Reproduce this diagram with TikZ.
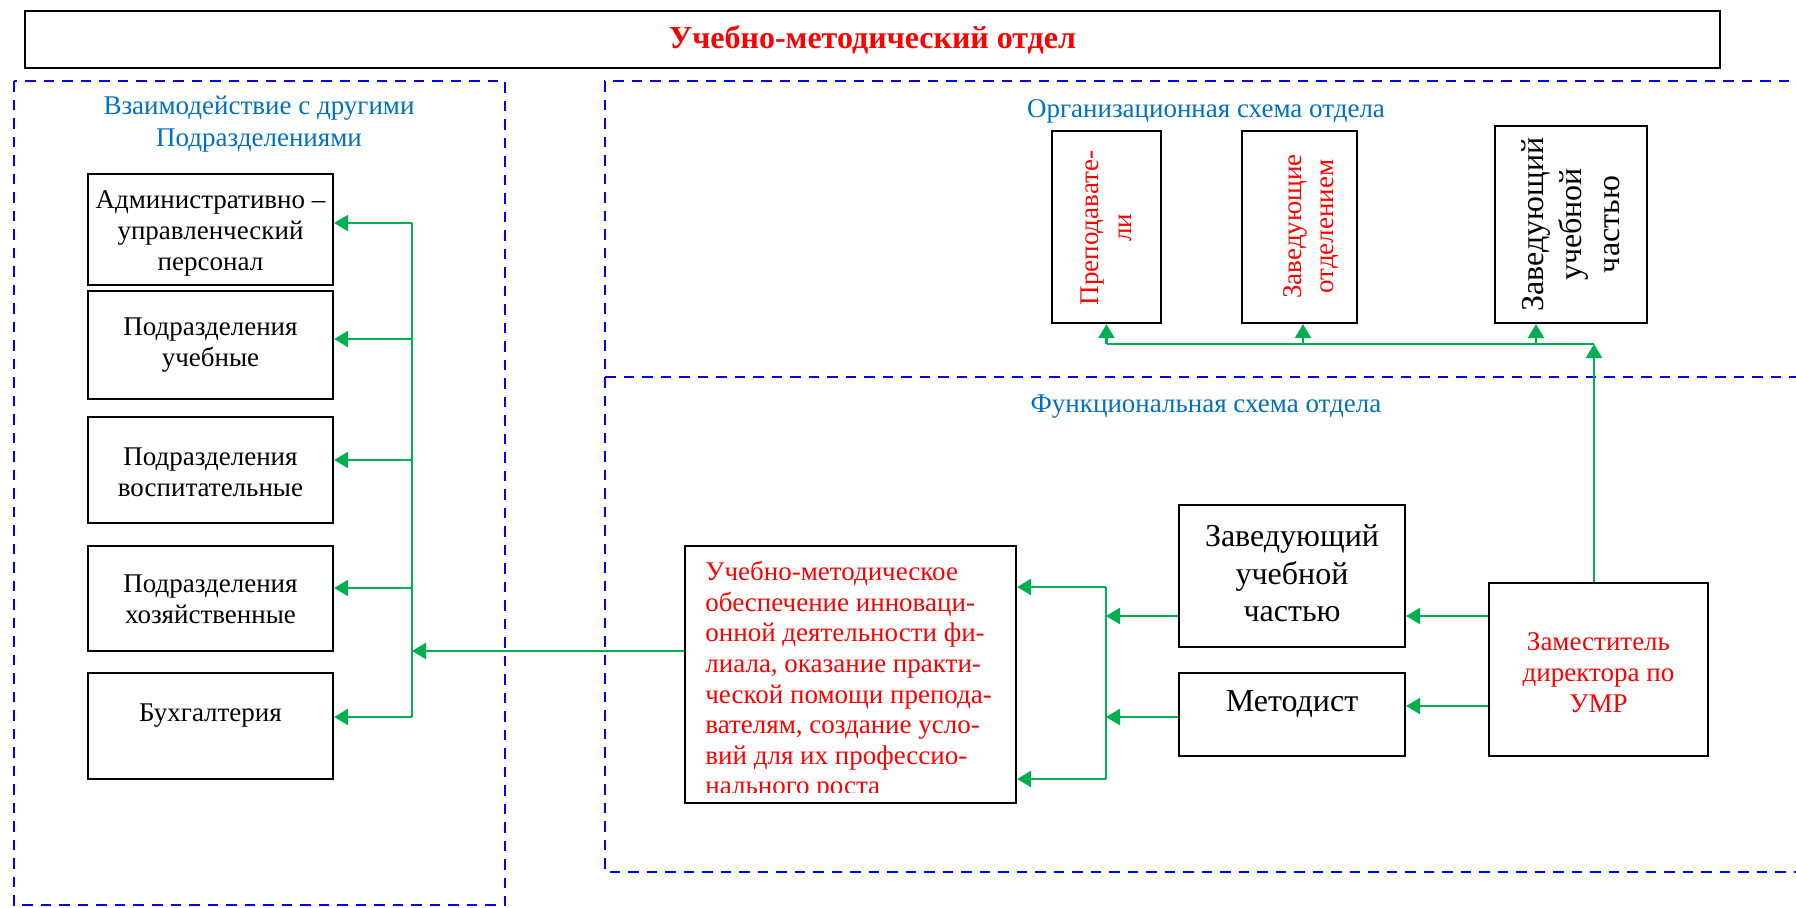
\documentclass[tikz,border=0pt]{standalone}
\usepackage{fontspec}
\setmainfont{Liberation Serif}
\usetikzlibrary{arrows.meta}
\definecolor{ggreen}{HTML}{00B050}
\definecolor{tblue}{HTML}{0070C0}
\definecolor{dblue}{HTML}{0000FF}
\definecolor{tred}{HTML}{FF0000}
\tikzset{
  box/.style={draw=black, line width=1.1pt, inner sep=0pt},
  txt/.style={font=\fontsize{13.5}{15.5}\selectfont, align=center, inner sep=0pt},
  bigtxt/.style={font=\fontsize{16}{18.75}\selectfont, align=center, inner sep=0pt},
  gline/.style={draw=ggreen, line width=1.2pt},
  arr/.style={gline, -{Triangle[length=7pt,width=8pt]}},
  dashbox/.style={draw=dblue, line width=1.4pt, dash pattern=on 5.25pt off 4pt},
}
\begin{document}
\begin{tikzpicture}[x=0.5pt,y=-0.5pt]
\useasboundingbox (0,0) rectangle (1796,907);
\clip (0,0) rectangle (1796,907);

% dashed regions
\draw[dashbox] (14,81) rectangle (505,905);
\draw[dashbox] (1900,81) -- (605,81) -- (605,872) -- (1900,872);
\draw[dashbox] (605,377) -- (1900,377);

% title
\node[box, line width=1.4pt, minimum width=847.5pt, minimum height=28.5pt, text=tred,
      font=\bfseries\fontsize{16}{19}\selectfont] (title) at (872.5,39.5) {Учебно-методический отдел};

% section titles
\node[txt, text=tblue, font=\fontsize{13.5}{16}\selectfont] (lt) at (259,124) {Взаимодействие с другими\\Подразделениями};
\node[txt, text=tblue] (ot) at (1206,111) {Организационная схема отдела};
\node[txt, text=tblue] (ft) at (1206,407) {Функциональная схема отдела};

% left boxes
\node[box, minimum width=122.5pt, minimum height=55.5pt] (a1) at (210.5,229.5) {};
\node[box, minimum width=122.5pt, minimum height=54pt] (a2) at (210.5,345) {};
\node[box, minimum width=122.5pt, minimum height=53pt] (a3) at (210.5,470) {};
\node[box, minimum width=122.5pt, minimum height=52.5pt] (a4) at (210.5,598.5) {};
\node[box, minimum width=122.5pt, minimum height=53pt] (a5) at (210.5,726) {};
\node[txt] (a1t) at (210.5,233.5) {Административно –\\управленческий\\персонал};
\node[txt] (a2t) at (210.5,345) {Подразделения\\учебные};
\node[txt] (a3t) at (210.5,472) {Подразделения\\воспитательные};
\node[txt] (a4t) at (210.5,599.5) {Подразделения\\хозяйственные};
\node[txt] (a5t) at (210.5,716) {Бухгалтерия};

% organisational boxes (vertical text)
\node[box, minimum width=54.5pt, minimum height=96pt] (p) at (1106.5,227) {};
\node[box, minimum width=57.5pt, minimum height=96pt] (z) at (1299.5,227) {};
\node[box, minimum width=76pt, minimum height=98.5pt] (zu) at (1571,224.5) {};
\node[txt, rotate=90, text=tred, font=\fontsize{13.5}{16.5}\selectfont] (pt) at (1106.5,228) {Преподавате-\\ли};
\node[txt, rotate=90, text=tred, font=\fontsize{13.5}{16}\selectfont] (zt) at (1311,226.5) {Заведующие\\отделением};
\node[bigtxt, rotate=90, font=\fontsize{16}{19}\selectfont] (zut) at (1571,224.5) {Заведующий\\учебной\\частью};

% functional boxes
\node[box, minimum width=165.5pt, minimum height=128.5pt] (r) at (850.5,674.5) {};
\node[box, minimum width=113pt, minimum height=71pt] (zv) at (1292,576) {};
\node[box, minimum width=113pt, minimum height=41.5pt] (m) at (1292,714.5) {};
\node[box, minimum width=109.5pt, minimum height=86.5pt] (d) at (1598.5,669.5) {};
\node[bigtxt] (zvt) at (1292,573.5) {Заведующий\\учебной\\частью};
\node[bigtxt] (mt) at (1292,704) {Методист};
\node[txt, text=tred] (dt) at (1598.5,673) {Заместитель\\директора по\\УМР};
\begin{scope}
\clip (685,546) rectangle (1016,792);
\node[txt, align=left, anchor=north west, text=tred, font=\fontsize{13.5}{15.3}\selectfont] (rt) at (705,561)
 {Учебно-методическое\\обеспечение инноваци-\\онной деятельности фи-\\лиала, оказание практи-\\ческой помощи препода-\\вателям, создание усло-\\вий для их профессио-\\нального роста};
\end{scope}

% left bus
\coordinate (b1) at (412,223);
\coordinate (b2) at (412,339);
\coordinate (b3) at (412,460);
\coordinate (b4) at (412,588);
\coordinate (b5) at (412,717);
\coordinate (bin) at (412,651);
\draw[gline] (b1) -- (b5);
\draw[arr] (b1) -- (b1 -| a1.east);
\draw[arr] (b2) -- (b2 -| a2.east);
\draw[arr] (b3) -- (b3 -| a3.east);
\draw[arr] (b4) -- (b4 -| a4.east);
\draw[arr] (b5) -- (b5 -| a5.east);
\draw[arr] (bin -| r.west) -- (bin);

% bus right of red box
\coordinate (c1) at (1106,587);
\coordinate (c2) at (1106,779);
\coordinate (c3) at (1106,616);
\coordinate (c4) at (1106,717);
\coordinate (dm) at (1447,706);
\draw[gline] (c1) -- (c2);
\draw[arr] (c1) -- (c1 -| r.east);
\draw[arr] (c2) -- (c2 -| r.east);
\draw[arr] (c3 -| zv.west) -- (c3);
\draw[arr] (c4 -| m.west) -- (c4);
\draw[arr] (c3 -| d.west) -- (c3 -| zv.east);
\draw[arr] (dm -| d.west) -- (dm -| m.east);

% organisational connectors
\coordinate (h) at (1594,344);
\coordinate (hz) at (1303,344);
\coordinate (hzu) at (1536,344);
\draw[arr] (h |- d.north) -- (h);
\draw[gline] (h) -- (p.south |- h);
\draw[arr] (p.south |- h) -- (p.south);
\draw[arr] (hz) -- (hz |- z.south);
\draw[arr] (hzu) -- (hzu |- zu.south);
\end{tikzpicture}
\end{document}
